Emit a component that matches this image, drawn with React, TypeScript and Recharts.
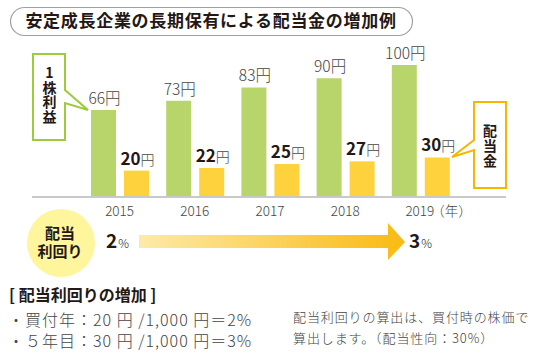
import React from "react";
import { BarChart, Bar, XAxis, YAxis, LabelList } from "recharts";

const years = ["2015", "2016", "2017", "2018", "2019"];
const eps = [66, 73, 83, 90, 100];
const dividends = [20, 22, 25, 27, 30];

const FONT = "'Noto Sans CJK JP', 'Noto Sans', sans-serif";
const GREEN = "#b8d56c";
const YELLOW = "#fed23c";
const DARK = "#231815";
const GRAY = "#444";

const data = years.map((y, i) => ({ year: y, eps: eps[i], dividend: dividends[i] }));

const YearTick = (props: any) => {
    const { x, y, payload, index } = props;
    const last = index === years.length - 1;
    // last tick carries the unit, year itself stays centred on the group
    return (
        <text x={last ? x - 15 : x} y={y + 11} textAnchor={last ? "start" : "middle"} fontSize={13.5} fontWeight={300} fill={GRAY} fontFamily={FONT}>
            {payload.value}
            {last && <tspan dx={-3}>（年）</tspan>}
        </text>
    );
};

// light number + yen above green bars
const EpsLabel = (props: any) => {
    const { x, y, width, value } = props;
    return (
        <text x={x + width / 2 + 1} y={y - 6} textAnchor="middle" fontSize={15.5} fontWeight={300} fill={GRAY} fontFamily={FONT}>
            {value}円
        </text>
    );
};

// bold number + light yen above yellow bars
const DivLabel = (props: any) => {
    const { x, y, width, value } = props;
    return (
        <text x={x + width / 2 + 1} y={y - 6} textAnchor="middle" fill={DARK} fontFamily={FONT}>
            <tspan fontSize={17} fontWeight={700}>{value}</tspan>
            <tspan fontSize={14} fontWeight={300} fill={GRAY}>円</tspan>
        </text>
    );
};

const vertical: React.CSSProperties = { writingMode: "vertical-rl", textOrientation: "upright" } as any;

const Overlay = () => (
    <svg width={540} height={360} style={{ position: "absolute", left: 0, top: 0, pointerEvents: "none" }}>
        <defs>
            <linearGradient id="arrowGrad" x1="0" y1="0" x2="1" y2="0">
                <stop offset="0%" stopColor="#fdeaa8" />
                <stop offset="100%" stopColor="#f9ba12" />
            </linearGradient>
        </defs>

        {/* title */}
        <rect x={10.5} y={7.5} width={402} height={28} rx={14} fill="#fff" stroke="#a0a0a0" strokeWidth={1.2} />
        <text x={211} y={27} textAnchor="middle" fontSize={17} fontWeight={700} fill={DARK} fontFamily={FONT} letterSpacing={0.7}>
            安定成長企業の長期保有による配当金の増加例
        </text>

        {/* 1株利益 callout */}
        <path d="M33,54 H65 V90 L88,110 L65,103 V140 H33 Z" fill="#fff" stroke="#9ccb3b" strokeWidth={2} />
        <text x={49.5} y={66} style={vertical} fontSize={14} fontWeight={700} fill={DARK} fontFamily={FONT} letterSpacing={0.5}>
            1株利益
        </text>

        {/* 配当金 callout */}
        <path d="M474,102 H506 V188 H474 V150 L452,157 L474,140 Z" fill="#fff" stroke="#f7b500" strokeWidth={2} />
        <text x={490} y={124} style={vertical} fontSize={14} fontWeight={700} fill={DARK} fontFamily={FONT} letterSpacing={1}>
            配当金
        </text>

        {/* yield circle */}
        <circle cx={61} cy={243} r={34} fill="#fff59d" />
        <text textAnchor="middle" fontSize={15} fontWeight={700} fill={DARK} fontFamily={FONT}>
            <tspan x={60} y={239}>配当</tspan>
            <tspan x={60} y={257}>利回り</tspan>
        </text>

        <text x={106} y={248} fontFamily={FONT} fill={DARK}>
            <tspan fontSize={19} fontWeight={700}>2</tspan>
            <tspan fontSize={12} fontWeight={300} dx={1}>%</tspan>
        </text>

        <path d="M139,235 H388 V223 L405,242 L388,260 V248 H139 Z" fill="url(#arrowGrad)" />

        <text x={409} y={248} fontFamily={FONT} fill={DARK}>
            <tspan fontSize={19} fontWeight={700}>3</tspan>
            <tspan fontSize={12} fontWeight={300} dx={1}>%</tspan>
        </text>

        {/* notes */}
        <text x={9} y={301} fontSize={16} fontWeight={700} fill={DARK} fontFamily={FONT}>[ 配当利回りの増加 ]</text>
        <text fontSize={16} fontWeight={300} fill={GRAY} fontFamily={FONT} letterSpacing={1}>
            <tspan x={8} y={326}>・買付年：20 円 /1,000 円＝2%</tspan>
            <tspan x={8} y={347}>・５年目：30 円 /1,000 円＝3%</tspan>
        </text>

        <text fontSize={13} fontWeight={300} fill={GRAY} fontFamily={FONT} letterSpacing={0.9}>
            <tspan x={293} y={322}>配当利回りの算出は、買付時の株価で</tspan>
            <tspan x={293} y={343}>算出します。（配当性向：30%）</tspan>
        </text>
    </svg>
);

export default function App() {
    return (
        <div style={{ position: "absolute", left: 0, top: 0, width: 540, height: 360, background: "#fff" }}>
            <BarChart
                width={540}
                height={227}
                data={data}
                margin={{ top: 65, right: 34, bottom: 0, left: 32 }}
                barSize={25}
                barGap={8}
            >
                <XAxis
                    dataKey="year"
                    axisLine={{ stroke: "#c9c9c9", strokeWidth: 2 }}
                    tickLine={false}
                    tick={YearTick}
                    interval={0}
                    height={30}
                    padding={{ left: 50, right: 48 }}
                />
                <YAxis hide domain={[0, 100]} />
                <Bar dataKey="eps" fill={GREEN} isAnimationActive={false}>
                    <LabelList dataKey="eps" content={EpsLabel} />
                </Bar>
                <Bar dataKey="dividend" fill={YELLOW} isAnimationActive={false}>
                    <LabelList dataKey="dividend" content={DivLabel} />
                </Bar>
            </BarChart>
            <Overlay />
        </div>
    );
}
